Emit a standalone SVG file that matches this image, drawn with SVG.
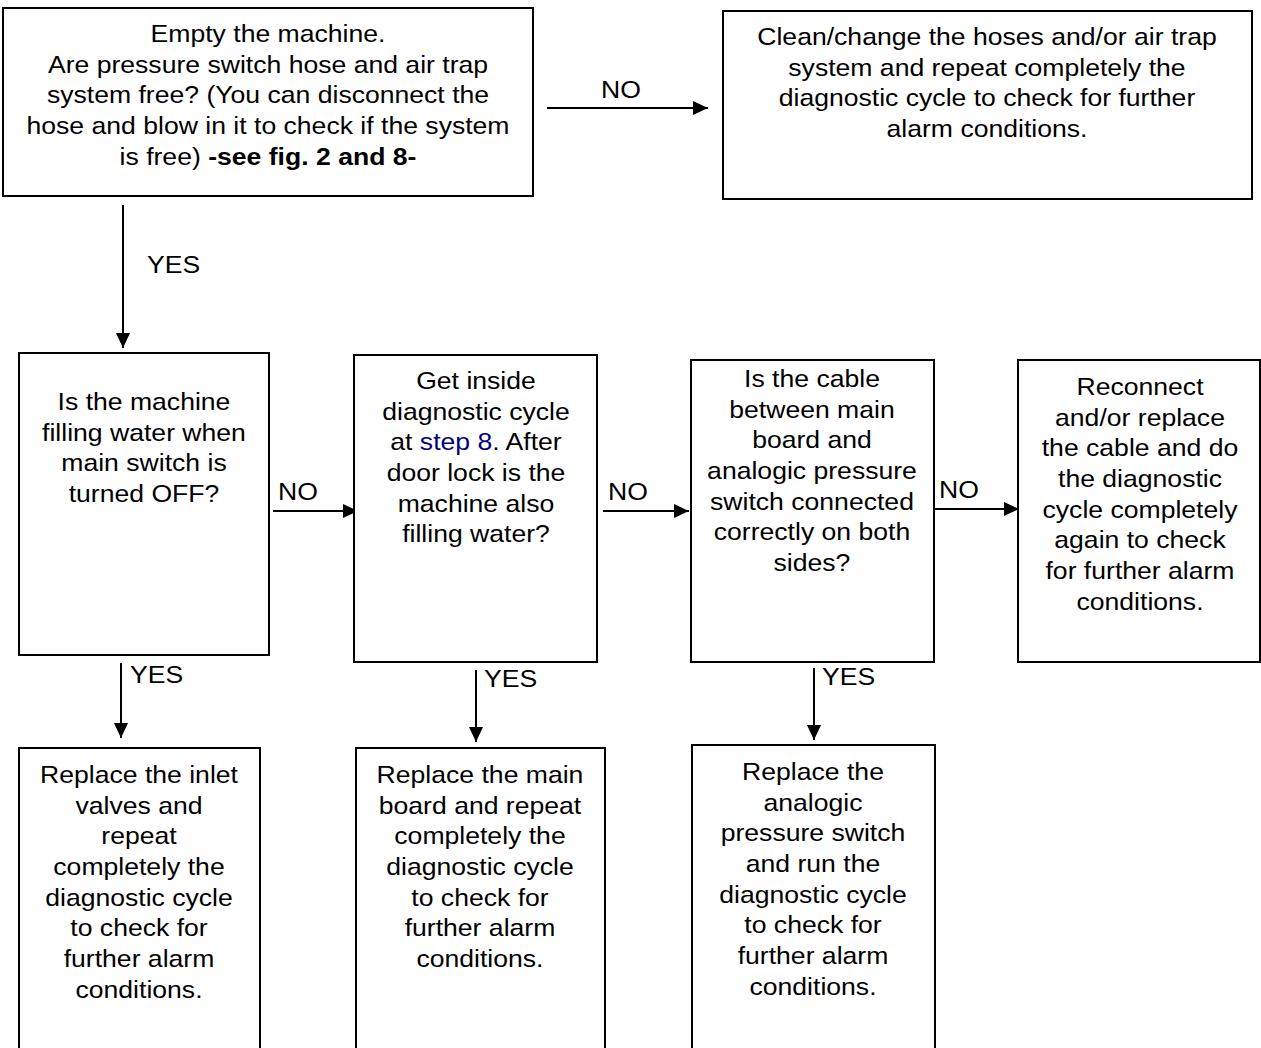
<svg xmlns="http://www.w3.org/2000/svg" width="1261" height="1048" viewBox="0 0 1261 1048">
  <style>
    .box { fill: #fff; stroke: #000; stroke-width: 2; }
    .t { font-family: "Liberation Sans", Arial, sans-serif; font-size: 24px; fill: #000; text-anchor: middle; }
    .lbl { font-family: "Liberation Sans", Arial, sans-serif; font-size: 24px; fill: #000; }
    .conn { stroke: #000; stroke-width: 2; fill: none; marker-end: url(#arrow); }
    .link { fill: #000080; }
  </style>
  <defs>
    <marker id="arrow" viewBox="0 0 15 14" refX="15" refY="7" markerWidth="15" markerHeight="14" markerUnits="userSpaceOnUse" orient="auto">
      <path d="M0,0 L15,7 L0,14 Z" fill="#000"/>
    </marker>
  </defs>
  <rect width="1261" height="1048" fill="#fff"/>

  <!-- text is widened 1.108x around its anchor x -->
  <g id="connectors">
    <line class="conn" x1="547" y1="108" x2="708" y2="108"/>
    <text class="lbl" x="621" y="98" text-anchor="middle" transform="matrix(1.108 0 0 1 -67.07 0)">NO</text>
    <line class="conn" x1="123" y1="205" x2="123" y2="348"/>
    <text class="lbl" x="147" y="273" transform="matrix(1.108 0 0 1 -15.88 0)">YES</text>
    <line class="conn" x1="273" y1="511" x2="358" y2="511"/>
    <text class="lbl" x="278" y="500" transform="matrix(1.108 0 0 1 -30.02 0)">NO</text>
    <line class="conn" x1="603" y1="511" x2="689" y2="511"/>
    <text class="lbl" x="608" y="500" transform="matrix(1.108 0 0 1 -65.66 0)">NO</text>
    <line class="conn" x1="935" y1="509" x2="1019" y2="509"/>
    <text class="lbl" x="939" y="498" transform="matrix(1.108 0 0 1 -101.41 0)">NO</text>
    <line class="conn" x1="121" y1="663" x2="121" y2="738"/>
    <text class="lbl" x="130" y="683" transform="matrix(1.108 0 0 1 -14.04 0)">YES</text>
    <line class="conn" x1="476" y1="670" x2="476" y2="742"/>
    <text class="lbl" x="484" y="687" transform="matrix(1.108 0 0 1 -52.27 0)">YES</text>
    <line class="conn" x1="814" y1="668" x2="814" y2="740"/>
    <text class="lbl" x="822" y="685" transform="matrix(1.108 0 0 1 -88.78 0)">YES</text>
  </g>

  <g id="n-empty">
    <rect class="box" x="3" y="8" width="530" height="188"/>
    <text class="t" x="268" y="42" transform="matrix(1.108 0 0 1 -28.94 0)"><tspan x="268">Empty the machine.</tspan><tspan x="268" dy="30.7">Are pressure switch hose and air trap</tspan><tspan x="268" dy="30.7">system free? (You can disconnect the</tspan><tspan x="268" dy="30.7">hose and blow in it to check if the system</tspan><tspan x="268" dy="30.7">is free) <tspan font-weight="bold">-see fig. 2 and 8-</tspan></tspan></text>
  </g>

  <g id="n-clean">
    <rect class="box" x="723" y="11" width="529" height="188"/>
    <text class="t" x="987" y="45" transform="matrix(1.108 0 0 1 -106.60 0)"><tspan x="987">Clean/change the hoses and/or air trap</tspan><tspan x="987" dy="30.7">system and repeat completely the</tspan><tspan x="987" dy="30.7">diagnostic cycle to check for further</tspan><tspan x="987" dy="30.7">alarm conditions.</tspan></text>
  </g>

  <g id="n-filling-off">
    <rect class="box" x="19" y="353" width="250" height="302"/>
    <text class="t" x="144" y="410" transform="matrix(1.108 0 0 1 -15.55 0)"><tspan x="144">Is the machine</tspan><tspan x="144" dy="30.7">filling water when</tspan><tspan x="144" dy="30.7">main switch is</tspan><tspan x="144" dy="30.7">turned OFF?</tspan></text>
  </g>

  <g id="n-step8">
    <rect class="box" x="354" y="355" width="243" height="307"/>
    <text class="t" x="476" y="389" transform="matrix(1.108 0 0 1 -51.41 0)"><tspan x="476">Get inside</tspan><tspan x="476" dy="30.7">diagnostic cycle</tspan><tspan x="476" dy="30.7">at <tspan class="link">step 8</tspan>. After</tspan><tspan x="476" dy="30.7">door lock is the</tspan><tspan x="476" dy="30.7">machine also</tspan><tspan x="476" dy="30.7">filling water?</tspan></text>
  </g>

  <g id="n-cable">
    <rect class="box" x="691" y="360" width="243" height="302"/>
    <text class="t" x="812" y="387" transform="matrix(1.108 0 0 1 -87.70 0)"><tspan x="812">Is the cable</tspan><tspan x="812" dy="30.7">between main</tspan><tspan x="812" dy="30.7">board and</tspan><tspan x="812" dy="30.7">analogic pressure</tspan><tspan x="812" dy="30.7">switch connected</tspan><tspan x="812" dy="30.7">correctly on both</tspan><tspan x="812" dy="30.7">sides?</tspan></text>
  </g>

  <g id="n-reconnect">
    <rect class="box" x="1018" y="360" width="242" height="302"/>
    <text class="t" x="1140" y="395" transform="matrix(1.108 0 0 1 -123.12 0)"><tspan x="1140">Reconnect</tspan><tspan x="1140" dy="30.7">and/or replace</tspan><tspan x="1140" dy="30.7">the cable and do</tspan><tspan x="1140" dy="30.7">the diagnostic</tspan><tspan x="1140" dy="30.7">cycle completely</tspan><tspan x="1140" dy="30.7">again to check</tspan><tspan x="1140" dy="30.7">for further alarm</tspan><tspan x="1140" dy="30.7">conditions.</tspan></text>
  </g>

  <g id="n-inlet">
    <rect class="box" x="19" y="748" width="241" height="320"/>
    <text class="t" x="139" y="783" transform="matrix(1.108 0 0 1 -15.01 0)"><tspan x="139">Replace the inlet</tspan><tspan x="139" dy="30.7">valves and</tspan><tspan x="139" dy="30.7">repeat</tspan><tspan x="139" dy="30.7">completely the</tspan><tspan x="139" dy="30.7">diagnostic cycle</tspan><tspan x="139" dy="30.7">to check for</tspan><tspan x="139" dy="30.7">further alarm</tspan><tspan x="139" dy="30.7">conditions.</tspan></text>
  </g>

  <g id="n-mainboard">
    <rect class="box" x="356" y="748" width="249" height="320"/>
    <text class="t" x="480" y="783" transform="matrix(1.108 0 0 1 -51.84 0)"><tspan x="480">Replace the main</tspan><tspan x="480" dy="30.7">board and repeat</tspan><tspan x="480" dy="30.7">completely the</tspan><tspan x="480" dy="30.7">diagnostic cycle</tspan><tspan x="480" dy="30.7">to check for</tspan><tspan x="480" dy="30.7">further alarm</tspan><tspan x="480" dy="30.7">conditions.</tspan></text>
  </g>

  <g id="n-pressure-switch">
    <rect class="box" x="692" y="745" width="243" height="323"/>
    <text class="t" x="813" y="780" transform="matrix(1.108 0 0 1 -87.80 0)"><tspan x="813">Replace the</tspan><tspan x="813" dy="30.7">analogic</tspan><tspan x="813" dy="30.7">pressure switch</tspan><tspan x="813" dy="30.7">and run the</tspan><tspan x="813" dy="30.7">diagnostic cycle</tspan><tspan x="813" dy="30.7">to check for</tspan><tspan x="813" dy="30.7">further alarm</tspan><tspan x="813" dy="30.7">conditions.</tspan></text>
  </g>
</svg>
